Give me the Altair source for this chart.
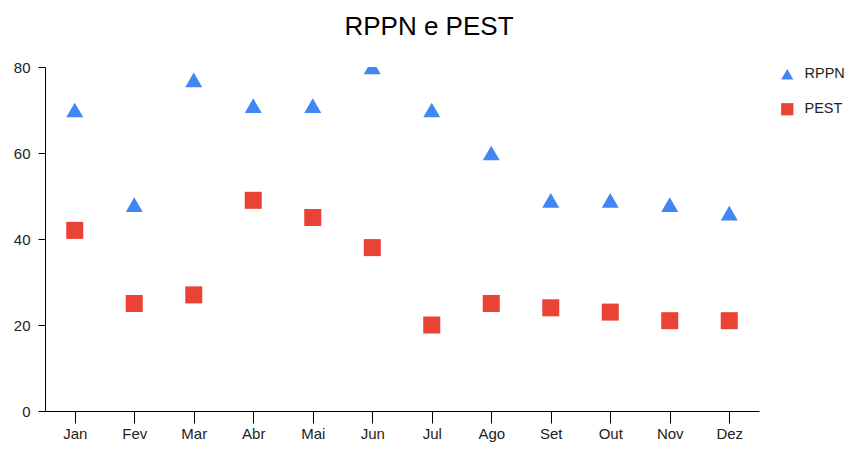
import altair as alt
import pandas as pd

months = ["Jan", "Fev", "Mar", "Abr", "Mai", "Jun", "Jul", "Ago", "Set", "Out", "Nov", "Dez"]
rppn = [70, 48, 77, 71, 71, 80, 70, 60, 49, 49, 48, 46]
pest = [42, 25, 27, 49, 45, 38, 20, 25, 24, 23, 21, 21]
series = ["RPPN", "PEST"]
y_ticks = [0, 20, 40, 60, 80]

rows = []
for m, a, b in zip(months, rppn, pest):
    rows.append({"mes": m, "serie": "RPPN", "valor": a})
    rows.append({"mes": m, "serie": "PEST", "valor": b})
df = pd.DataFrame(rows)

FONT = "Liberation Sans"

legend_cfg = dict(title=None, orient="none", legendX=735, legendY=0,
                  labelFontSize=14.5, labelFont=FONT, labelColor="#222",
                  symbolSize=150, rowPadding=17, labelOffset=10,
                  padding=0, symbolOpacity=1)

chart = (
    alt.Chart(df)
    .mark_point(filled=True, opacity=1, size=290, clip=True)
    .encode(
        x=alt.X("mes:N", sort=months, title=None,
                scale=alt.Scale(type="point", padding=0.5),
                axis=alt.Axis(labelAngle=0, labelFontSize=15, labelFont=FONT, labelColor="#222",
                              tickSize=12, tickColor="#000", domainColor="#000",
                              labelPadding=3, grid=False)),
        y=alt.Y("valor:Q", title=None,
                scale=alt.Scale(domain=[0, 80], nice=False),
                axis=alt.Axis(values=y_ticks, labelFontSize=15, labelFont=FONT, labelColor="#222",
                              tickSize=7, tickColor="#000", domainColor="#000",
                              labelPadding=8, grid=False)),
        color=alt.Color("serie:N", sort=series,
                        scale=alt.Scale(domain=series, range=["#4285F4", "#EA4335"]),
                        legend=alt.Legend(**legend_cfg)),
        shape=alt.Shape("serie:N", sort=series,
                        scale=alt.Scale(domain=series, range=["triangle-up", "square"]),
                        legend=alt.Legend(**legend_cfg)),
    )
    .properties(
        width=714,
        height=344,
        title=alt.TitleParams("RPPN e PEST", fontSize=26, font=FONT, fontWeight="normal",
                              color="#000", anchor="middle", dx=27, offset=20),
        autosize=alt.AutoSizeParams(type="none"),
        padding={"left": 37, "top": 59, "right": 86, "bottom": 33},
    )
    .configure_view(stroke=None)
)

chart.save("out.html", embed_options={"renderer": "svg", "actions": False})
